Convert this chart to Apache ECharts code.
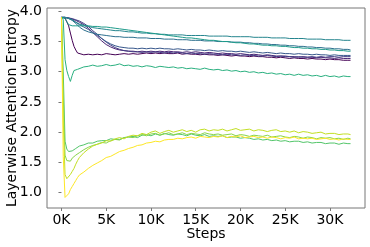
<!DOCTYPE html>
<html><head><meta charset="utf-8">
<script src="https://cdn.jsdelivr.net/npm/echarts@6/dist/echarts.min.js"></script>
<style>html,body{margin:0;padding:0;background:#fff}#c{width:370px;height:247px}</style>
</head><body><div id="c"></div>
<script>
const steps = [0,200,400,600,800,1000,1200,1400,1600,1800,2000,
2500,3000,3500,4000,4500,5000,5500,6000,6500,7000,
7500,8000,8500,9000,9500,10000,10500,11000,11500,12000,
12500,13000,13500,14000,14500,15000,15500,16000,16500,17000,
17500,18000,18500,19000,19500,20000,20500,21000,21500,22000,
22500,23000,23500,24000,24500,25000,25500,26000,26500,27000,
27500,28000,28500,29000,29500,30000,30500,31000,31500,32000,32300];

const layer0 = [3.90,3.90,3.89,3.86,3.76,3.64,3.52,3.42,3.36,3.31,3.29,
3.28,3.29,3.28,3.29,3.28,3.30,3.29,3.28,3.29,3.30,
3.29,3.30,3.29,3.30,3.31,3.30,3.31,3.30,3.31,3.30,
3.30,3.31,3.29,3.30,3.29,3.29,3.28,3.29,3.28,3.28,
3.27,3.28,3.27,3.26,3.27,3.26,3.26,3.25,3.26,3.25,
3.25,3.24,3.24,3.23,3.24,3.23,3.22,3.23,3.22,3.22,
3.21,3.22,3.21,3.21,3.20,3.21,3.20,3.20,3.19,3.19,3.19];
const layer1 = [3.90,3.90,3.90,3.90,3.89,3.88,3.87,3.86,3.85,3.84,3.82,
3.78,3.72,3.65,3.58,3.51,3.45,3.41,3.38,3.36,3.35,
3.34,3.34,3.33,3.34,3.33,3.34,3.33,3.34,3.33,3.34,
3.33,3.33,3.32,3.33,3.32,3.33,3.32,3.31,3.32,3.31,
3.30,3.31,3.30,3.30,3.29,3.30,3.29,3.28,3.29,3.28,
3.27,3.28,3.27,3.26,3.26,3.26,3.25,3.25,3.24,3.25,
3.24,3.24,3.23,3.24,3.23,3.23,3.22,3.23,3.22,3.22,3.22];
const layer2 = [3.90,3.90,3.90,3.90,3.89,3.89,3.88,3.87,3.86,3.85,3.84,
3.80,3.75,3.68,3.62,3.55,3.49,3.44,3.40,3.37,3.35,
3.34,3.33,3.33,3.32,3.33,3.32,3.33,3.32,3.31,3.32,
3.31,3.32,3.31,3.30,3.31,3.30,3.30,3.29,3.30,3.29,
3.29,3.28,3.29,3.28,3.28,3.27,3.28,3.27,3.27,3.26,
3.26,3.27,3.26,3.25,3.26,3.25,3.25,3.24,3.25,3.24,
3.24,3.25,3.24,3.25,3.24,3.25,3.25,3.24,3.25,3.25,3.25];
const layer3 = [3.90,3.90,3.90,3.90,3.89,3.88,3.86,3.84,3.82,3.80,3.78,
3.74,3.70,3.65,3.60,3.55,3.50,3.46,3.43,3.41,3.40,
3.39,3.39,3.38,3.39,3.38,3.39,3.38,3.39,3.38,3.38,
3.37,3.38,3.37,3.36,3.37,3.36,3.36,3.35,3.36,3.35,
3.34,3.35,3.34,3.34,3.33,3.34,3.33,3.32,3.33,3.32,
3.31,3.32,3.31,3.30,3.31,3.30,3.30,3.29,3.30,3.29,
3.29,3.28,3.29,3.28,3.28,3.27,3.28,3.27,3.27,3.27,3.27];
const layer4 = [3.90,3.90,3.90,3.89,3.88,3.87,3.85,3.83,3.80,3.77,3.74,
3.69,3.66,3.64,3.62,3.61,3.60,3.59,3.58,3.58,3.57,
3.57,3.57,3.56,3.56,3.56,3.55,3.55,3.55,3.54,3.54,
3.54,3.53,3.53,3.53,3.52,3.52,3.52,3.51,3.51,3.51,
3.50,3.50,3.50,3.49,3.49,3.49,3.48,3.48,3.47,3.47,
3.46,3.46,3.45,3.45,3.44,3.44,3.43,3.43,3.42,3.42,
3.41,3.41,3.40,3.40,3.39,3.39,3.38,3.38,3.37,3.37,3.36];
const layer5 = [3.90,3.90,3.90,3.89,3.88,3.87,3.86,3.84,3.82,3.80,3.79,
3.77,3.75,3.73,3.72,3.71,3.70,3.69,3.68,3.68,3.67,
3.66,3.66,3.65,3.64,3.64,3.63,3.63,3.62,3.62,3.61,
3.61,3.61,3.61,3.60,3.60,3.60,3.60,3.60,3.59,3.59,
3.59,3.59,3.59,3.58,3.58,3.58,3.58,3.58,3.57,3.57,
3.57,3.57,3.56,3.56,3.56,3.56,3.55,3.55,3.55,3.55,
3.54,3.54,3.54,3.54,3.53,3.53,3.53,3.53,3.52,3.52,3.52];
const layer6 = [3.90,3.90,3.88,3.83,3.78,3.76,3.76,3.76,3.76,3.76,3.76,
3.76,3.76,3.75,3.75,3.74,3.74,3.73,3.72,3.71,3.70,
3.69,3.68,3.67,3.66,3.65,3.64,3.63,3.62,3.61,3.60,
3.59,3.58,3.57,3.56,3.56,3.55,3.54,3.53,3.52,3.52,
3.51,3.50,3.50,3.49,3.48,3.48,3.47,3.46,3.46,3.45,
3.44,3.44,3.43,3.43,3.42,3.42,3.41,3.40,3.40,3.39,
3.39,3.38,3.38,3.37,3.37,3.36,3.36,3.35,3.35,3.34,3.34];
const layer7 = [3.90,3.86,3.20,3.02,2.92,2.84,2.94,3.02,2.99,3.04,3.06,
3.08,3.09,3.11,3.09,3.10,3.12,3.10,3.11,3.13,3.10,
3.11,3.09,3.10,3.08,3.10,3.09,3.07,3.09,3.08,3.07,
3.08,3.06,3.07,3.05,3.06,3.05,3.04,3.06,3.04,3.03,
3.04,3.02,3.03,3.01,3.02,3.00,3.01,2.99,3.00,2.98,
2.99,2.97,2.98,2.96,2.97,2.95,2.96,2.94,2.96,2.94,
2.95,2.93,2.94,2.92,2.94,2.92,2.93,2.91,2.93,2.92,2.92];
const layer8 = [3.90,3.00,1.85,1.72,1.68,1.66,1.69,1.72,1.73,1.75,1.77,
1.79,1.82,1.82,1.85,1.86,1.86,1.89,1.88,1.88,1.91,
1.92,1.93,1.91,1.95,1.96,1.94,1.97,1.95,1.98,1.96,
1.95,1.97,1.96,1.94,1.97,1.95,1.94,1.96,1.93,1.94,
1.93,1.94,1.91,1.92,1.92,1.90,1.91,1.90,1.88,1.89,
1.87,1.88,1.86,1.87,1.85,1.86,1.84,1.85,1.85,1.83,
1.84,1.82,1.83,1.83,1.81,1.82,1.82,1.80,1.82,1.81,1.81];
const layer9 = [3.90,2.60,1.62,1.53,1.50,1.52,1.57,1.60,1.62,1.64,1.66,
1.71,1.75,1.78,1.80,1.83,1.82,1.86,1.88,1.87,1.91,
1.92,1.91,1.94,1.96,1.94,1.97,1.98,1.95,1.97,1.99,
1.96,1.97,1.99,1.96,1.98,1.97,1.96,1.99,1.97,1.96,
1.97,1.95,1.96,1.97,1.94,1.96,1.95,1.93,1.95,1.94,
1.93,1.95,1.92,1.93,1.94,1.92,1.91,1.93,1.92,1.90,
1.92,1.91,1.89,1.91,1.90,1.91,1.89,1.90,1.88,1.90,1.89];
const layer10 = [3.90,2.20,1.30,1.23,1.26,1.30,1.35,1.40,1.47,1.53,1.58,
1.66,1.72,1.77,1.80,1.82,1.86,1.85,1.89,1.91,1.89,
1.93,1.95,1.94,1.98,1.96,2.00,2.02,1.98,2.01,2.03,
2.00,2.02,2.04,2.01,2.03,2.00,2.04,2.05,2.02,2.04,
2.03,2.05,2.02,2.04,2.06,2.03,2.04,2.05,2.02,2.04,
2.03,2.01,2.03,2.04,2.01,2.02,2.00,2.02,1.99,2.01,
2.00,1.98,1.99,2.00,1.97,1.98,1.98,1.96,1.97,1.97,1.96];
const layer11 = [3.90,1.60,0.92,0.90,0.98,1.05,1.10,1.15,1.20,1.25,1.29,
1.34,1.40,1.45,1.49,1.53,1.58,1.60,1.64,1.68,1.70,
1.73,1.75,1.78,1.79,1.82,1.83,1.85,1.84,1.87,1.88,
1.88,1.90,1.89,1.91,1.92,1.90,1.93,1.92,1.91,1.93,
1.92,1.94,1.91,1.93,1.92,1.94,1.91,1.92,1.93,1.91,
1.92,1.90,1.92,1.91,1.89,1.91,1.90,1.92,1.89,1.90,
1.89,1.90,1.88,1.89,1.90,1.88,1.89,1.87,1.89,1.88,1.88];

const layers = [layer0,layer1,layer2,layer3,layer4,layer5,layer6,layer7,layer8,layer9,layer10,layer11];
const colors = ['#440154','#482173','#433e85','#38588c','#2d708e','#25858e','#1e9b8a','#2ab07f','#52c569','#86d549','#c2df23','#fde725'];
const xTicks = [0,5000,10000,15000,20000,25000,30000];
const yTicks = [1.0,1.5,2.0,2.5,3.0,3.5,4.0];

const font = 'DejaVu Sans';
const chart = echarts.init(document.getElementById('c'), null, {renderer:'canvas'});
chart.setOption({
  animation:false,
  backgroundColor:'#fff',
  grid:{left:47,right:5,top:8,bottom:39,containLabel:false,outerBoundsMode:'none',
    show:true,borderColor:'#777',borderWidth:1,backgroundColor:'transparent'},
  xAxis:{type:'value',min:-1615,max:33915,
    name:'Steps',nameLocation:'middle',nameGap:19,nameMoveOverlap:false,
    nameTextStyle:{fontFamily:font,fontSize:14,color:'#000'},
    axisLine:{show:false},splitLine:{show:false},
    axisTick:{show:true,length:3,lineStyle:{color:'#777'},customValues:xTicks},
    axisLabel:{customValues:xTicks,margin:5,fontFamily:font,fontSize:14,color:'#000',formatter:v=>Math.round(v/1000)+'K'}},
  yAxis:{type:'value',min:0.745,max:4.055,
    name:'Layerwise Attention Entropy',nameLocation:'middle',nameGap:28,nameRotate:90,nameMoveOverlap:false,
    nameTextStyle:{fontFamily:font,fontSize:14,color:'#000'},
    axisLine:{show:false},splitLine:{show:false},
    axisTick:{show:true,length:3,lineStyle:{color:'#777'},customValues:yTicks},
    axisLabel:{customValues:yTicks,margin:5,fontFamily:font,fontSize:14,color:'#000',formatter:v=>v.toFixed(1)}},
  series:layers.map((arr,i)=>({type:'line',showSymbol:false,symbol:'none',
    data:arr.map((v,j)=>[steps[j],v]),
    lineStyle:{color:colors[i],width:1},itemStyle:{color:colors[i]}}))
});
</script></body></html>
